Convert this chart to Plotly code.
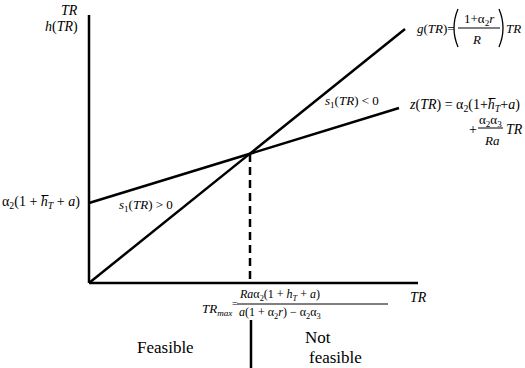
import plotly.graph_objects as go

# ---- data (schematic units: TR on x, value on y; origin at axes corner) ----
axis_TR_max = 329          # length of TR axis
axis_val_max = 268         # length of vertical axis
g_TR = [0, 316]            # g(TR) line
g_val = [0, 254]
z_TR = [0, 310]            # z(TR) line
z_val = [80, 175]
TR_max = 161               # intersection
TR_max_val = 129

OX, OY = 89, 283           # pixel position of origin
W, H = 525, 368

def P(px, py):
    return px - OX, OY - py

FONT = "Liberation Serif, Times New Roman, serif"
BLK = "black"

fig = go.Figure()
LW = 2.5
# axes
fig.add_trace(go.Scatter(x=[0, 0], y=[axis_val_max, 0], mode="lines",
                         line=dict(color=BLK, width=LW), hoverinfo="skip"))
fig.add_trace(go.Scatter(x=[0, axis_TR_max], y=[0, 0], mode="lines",
                         line=dict(color=BLK, width=LW), hoverinfo="skip"))
# g and z
fig.add_trace(go.Scatter(x=g_TR, y=g_val, mode="lines",
                         line=dict(color=BLK, width=LW), hoverinfo="skip"))
fig.add_trace(go.Scatter(x=z_TR, y=z_val, mode="lines",
                         line=dict(color=BLK, width=LW), hoverinfo="skip"))
# dashed drop line
fig.add_trace(go.Scatter(x=[TR_max, TR_max], y=[TR_max_val, 0], mode="lines",
                         line=dict(color=BLK, width=LW, dash="8px,5px"), hoverinfo="skip"))
# solid separator below axis
sx, sy0 = P(252, 320)
_, sy1 = P(252, 368)
fig.add_trace(go.Scatter(x=[TR_max + 1, TR_max + 1], y=[sy0, sy1], mode="lines",
                         line=dict(color=BLK, width=LW), hoverinfo="skip"))

shapes = []
def hline(px0, px1, py, w=1):
    x0, y = P(px0, py)
    x1, _ = P(px1, py)
    shapes.append(dict(type="line", x0=x0, x1=x1, y0=y, y1=y, xref="x", yref="y",
                       line=dict(color=BLK, width=w)))

def paren(px_end, px_mid, py0, py1, w=1.3):
    x0, y0 = P(px_end, py0)
    xm, ym = P(px_mid, (py0 + py1) / 2)
    x1, y1 = P(px_end, py1)
    shapes.append(dict(type="path", xref="x", yref="y",
                       path=f"M {x0},{y0} Q {xm},{ym} {x1},{y1}",
                       line=dict(color=BLK, width=w)))

ann = []
def T(px, py, text, size=14, anchor="center"):
    x, y = P(px, py)
    ann.append(dict(x=x, y=y, xref="x", yref="y", text=text, showarrow=False,
                    xanchor=anchor, yanchor="middle",
                    font=dict(family=FONT, size=size, color=BLK)))

# y-axis labels
T(80, 10, "<i>TR</i>", 14, "right")
T(80, 27, "<i>h</i>(<i>TR</i>)", 14, "right")
# x-axis label
T(408, 297, "<i>TR</i>", 14, "left")

# g(TR) formula
T(415, 28, "<i>g</i>(<i>TR</i>)=", 13, "left")
paren(458, 450, 9, 47)
T(479, 19, "1+α<sub>2</sub><i>r</i>", 13, "center")
hline(458, 500, 28, 1)
T(476, 39, "<i>R</i>", 13, "center")
paren(499, 507, 9, 47)
T(504, 28, "<i>TR</i>", 13, "left")

# z(TR) formula
T(407, 105, "<i>z</i>(<i>TR</i>) = α<sub>2</sub>(1+<i>h\u0305</i><sub><i>T</i></sub>+<i>a</i>)", 14, "left")
T(473, 129, "+", 14, "center")
T(490, 120, "α<sub>2</sub>α<sub>3</sub>", 13, "center")
hline(478, 503, 128, 1)
T(492, 140, "<i>Ra</i>", 13, "center")
T(504, 129, "<i>TR</i>", 14, "left")

# region labels
T(352, 101, "<i>s</i><sub>1</sub>(<i>TR</i>) < 0", 13)
T(146, 205, "<i>s</i><sub>1</sub>(<i>TR</i>) > 0", 13)
T(82, 202, "α<sub>2</sub>(1 + <i>h\u0305</i><sub><i>T</i></sub> + <i>a</i>)", 14, "right")

# TR_max formula
T(234, 309, "<i>TR</i><sub><i>max</i></sub>", 13, "right")
T(235, 303, "=", 10, "center")
T(237, 295, "<i>Ra</i>α<sub>2</sub>(1 + <i>h</i><sub><i>T</i></sub> + <i>a</i>)", 12, "left")
hline(237, 388, 304, 1)
T(237, 313, "<i>a</i>(1 + α<sub>2</sub><i>r</i>) − α<sub>2</sub>α<sub>3</sub>", 12, "left")

# feasibility
T(165, 347, "Feasible", 17)
T(318, 337, "Not", 17)
T(335, 357, "feasible", 17)

fig.update_layout(
    width=W, height=H, margin=dict(l=0, r=0, t=0, b=0),
    font=dict(family=FONT, color=BLK),
    paper_bgcolor="white", plot_bgcolor="white", showlegend=False,
    xaxis=dict(range=[-OX, W - OX], visible=False, fixedrange=True),
    yaxis=dict(range=[OY - H, OY], visible=False, fixedrange=True),
    shapes=shapes, annotations=ann,
)
fig.write_html("out.html", config={"displayModeBar": False},
               post_script="document.body.style.margin='0';document.body.style.overflow='hidden';")
